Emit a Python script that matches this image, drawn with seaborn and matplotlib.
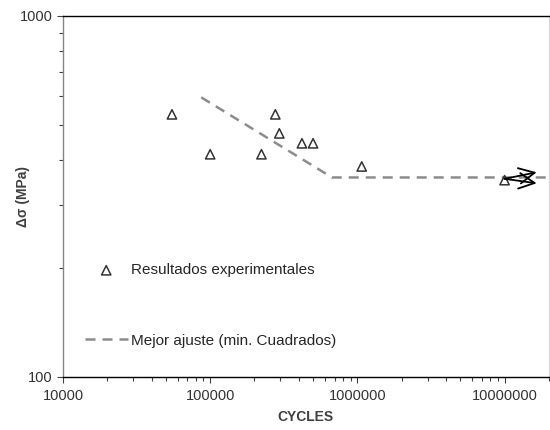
import numpy as np
import pandas as pd
import matplotlib
matplotlib.use("Agg")
import matplotlib.pyplot as plt
import seaborn as sns

# experimental fatigue results (cycles, stress range in MPa)
cycles = [55000, 100000, 223000, 277000, 295000, 420000, 500000, 1070000, 10000000]
stress = [534, 414, 414, 534, 473, 444, 444, 383, 351]

# best fit (least squares) with endurance plateau
fit_cycles = [87000, 673000, 20000000]
fit_stress = [595, 357, 357]

# run-out arrows at the last point
runout_tips = [(16500000, 369), (16500000, 344)]

sns.set_theme(style="ticks")
plt.rcParams['font.family'] = ['Liberation Sans', 'DejaVu Sans']

exp_df = pd.DataFrame({"Cycles": cycles, "Stress": stress})
fit_df = pd.DataFrame({"Cycles": fit_cycles, "Stress": fit_stress})

fig = plt.figure(figsize=(5.5, 4.3), dpi=100)
ax = fig.add_axes([0.1145, 0.1233, 0.8835, 0.8395])

sns.scatterplot(data=exp_df, x="Cycles", y="Stress", ax=ax, marker="^",
                s=45, facecolor="none", edgecolor="#333333", linewidth=1.1,
                label="Resultados experimentales", zorder=3)
sns.lineplot(data=fit_df, x="Cycles", y="Stress", ax=ax, color="#8c8c8c",
             linewidth=1.8, dashes=False, label="Mejor ajuste (min. Cuadrados)")
ax.lines[-1].set_dashes((4, 2.8))

for tip in runout_tips:
    ax.annotate("", xy=tip, xytext=(cycles[-1], stress[-1] + 3),
                arrowprops=dict(arrowstyle="->", lw=1.3, color="black",
                                mutation_scale=28, shrinkA=0, shrinkB=0))

ax.set_xscale("log")
ax.set_yscale("log")
ax.set_xlim(10000, 20000000)
ax.set_ylim(100, 1000)

xt = [10000, 100000, 1000000, 10000000]
ax.set_xticks(xt)
ax.set_xticklabels([str(v) for v in xt])
yt = [100, 1000]
ax.set_yticks(yt)
ax.set_yticklabels([str(v) for v in yt])
ax.yaxis.set_minor_formatter(matplotlib.ticker.NullFormatter())
ax.xaxis.set_minor_formatter(matplotlib.ticker.NullFormatter())

ax.tick_params(axis="both", which="major", labelsize=10.5, colors="#404040",
               length=4, width=0.8, labelcolor="#333333")
ax.tick_params(axis="both", which="minor", length=3, width=0.8, colors="#404040")
ax.tick_params(axis="x", pad=5)

ax.set_xlabel("CYCLES", fontsize=10, fontweight="bold", color="#404040", labelpad=5)
ax.set_ylabel("Δσ (MPa)", fontsize=10, fontweight="bold", color="#404040")
ax.yaxis.set_label_coords(-0.068, 0.5)

ax.spines["left"].set_color("#868686")
ax.spines["bottom"].set_color("black")
ax.spines["top"].set_color("black")
ax.spines["right"].set_color("#d9d9d9")
for s in ax.spines.values():
    s.set_linewidth(1.0)

leg = ax.legend(loc="upper left", bbox_to_anchor=(0.045, 0.315), frameon=False,
                fontsize=11, handlelength=2.8, handletextpad=0.2,
                labelspacing=3.7, borderpad=0, borderaxespad=0)
for t in leg.get_texts():
    t.set_color("#262626")

fig.savefig("out.png", dpi=100)
